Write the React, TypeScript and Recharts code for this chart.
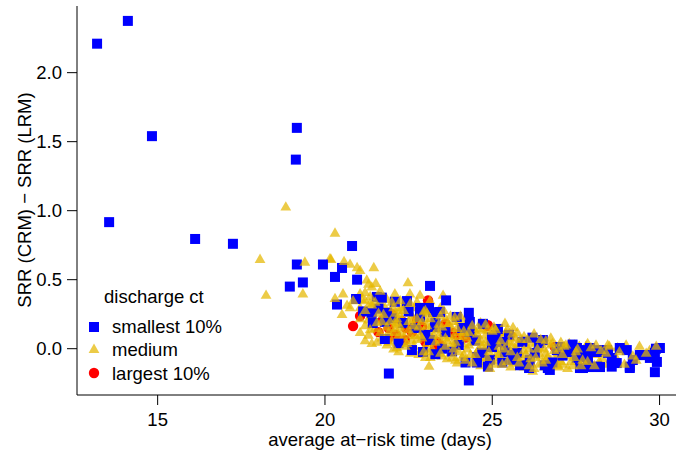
import React from 'react';
import { ScatterChart, Scatter, XAxis, YAxis } from 'recharts';

// [average at-risk time (days), SRR(CRM) - SRR(LRM)]
const smallest: [number, number][] = [
    [13.19, 2.21], [14.11, 2.375], [14.83, 1.54], [13.55, 0.917], [16.12, 0.795], [17.25, 0.76],
    [19.16, 1.6], [19.13, 1.37], [19.16, 0.61], [18.95, 0.45], [19.34, 0.48], [19.94, 0.61],
    [20.81, 0.744], [20.51, 0.585], [21.91, -0.18], [24.3, -0.23], [29.89, 0.0], [29.86, -0.17],
    [20.3, 0.52], [20.96, 0.5], [23.14, 0.455], [23.62, 0.35], [20.93, 0.36], [20.36, 0.32],
    [21.14, 0.27], [21.55, 0.375], [21.7, 0.37], [22.09, 0.34], [22.45, 0.345], [22.84, 0.295],
    [23.11, 0.295], [23.44, 0.266], [23.94, 0.23], [24.33, 0.194], [24.72, 0.18], [25.17, 0.143],
    [21.79, 0.194], [21.43, 0.186], [21.79, 0.07], [22.6, -0.01], [22.93, -0.024], [23.14, 0.063],
    [23.5, 0.0], [24.0, 0.027], [24.33, 0.12], [25.02, 0.04], [25.32, 0.049], [25.38, -0.024],
    [25.74, -0.03], [25.83, -0.12], [26.27, -0.03], [26.66, -0.14], [26.93, -0.01], [27.32, -0.024],
    [27.71, -0.06], [28.13, -0.024], [28.46, -0.03], [28.81, 0.005], [29.11, -0.13], [29.47, -0.046],
    [29.86, -0.03], [27.71, -0.14], [28.13, -0.13], [28.57, -0.13], [27.53, 0.005], [27.92, 0.005],
    [28.43, -0.01], [24.93, -0.08], [24.54, -0.1], [21.4, 0.26], [21.85, 0.26], [22.33, 0.186],
    [22.84, 0.23], [23.29, 0.157], [23.23, 0.265], [23.3, 0.186], [24.99, 0.085], [24.99, 0.012],
    [25.68, -0.045], [26.12, -0.08], [24.87, -0.13], [26.57, -0.12], [24.54, -0.06],
    [26.51, 0.063], [26.72, -0.154], [27.02, 0.012], [27.62, -0.14], [27.92, -0.133], [28.22, -0.133],
    [28.72, -0.104], [29.02, -0.01], [29.41, -0.046], [29.71, -0.067], [29.92, -0.096], [30.01, 0.005],
    [28.16, -0.01], [28.57, -0.067], [29.2, -0.082], [29.56, -0.046], [27.71, -0.01], [27.53, -0.067],
    [27.86, -0.067], [29.11, -0.14],
    [21.6, 0.29], [22.0, 0.22], [22.2, 0.04], [22.5, 0.27], [22.7, 0.15], [23.0, 0.1], [23.3, -0.04],
    [23.6, 0.12], [23.8, -0.02], [24.1, 0.15], [24.2, -0.1], [24.5, 0.06], [24.7, -0.03], [25.1, 0.1],
    [25.5, 0.1], [25.6, -0.08], [25.9, 0.05], [26.1, -0.14], [26.4, 0.04], [26.8, -0.1], [27.1, -0.05],
    [27.4, 0.03], [26.2, 0.08], [25.3, -0.1], [24.3, 0.26],
];

const medium: [number, number][] = [
    [18.83, 1.03], [20.3, 0.84], [18.06, 0.65], [19.4, 0.63], [18.24, 0.39], [19.34, 0.4],
    [20.18, 0.65], [20.57, 0.635], [20.75, 0.614], [20.96, 0.59], [21.05, 0.57], [21.46, 0.59],
    [21.25, 0.5], [21.52, 0.476], [20.54, 0.4], [20.3, 0.367], [20.51, 0.25], [22.48, 0.48],
    [23.53, 0.39], [20.75, 0.3], [22.15, 0.012], [23.11, -0.125], [26.21, -0.16], [24.93, -0.14],
    [25.62, 0.157], [25.38, 0.186], [24.69, 0.136], [23.88, 0.23], [20.15, 0.655], [21.34, 0.33],
    [22.09, 0.4], [22.84, 0.39], [21.05, 0.4], [20.84, 0.35], [22.54, 0.4], [20.66, 0.317],
    [23.14, 0.35], [22.15, 0.19], [21.3, 0.47], [21.4, 0.45],
    [21.1, 0.36], [21.2, 0.28], [21.3, 0.21], [21.4, 0.32], [21.5, 0.15], [21.6, 0.26], [21.6, 0.38],
    [21.7, 0.2], [21.8, 0.3], [21.9, 0.12], [21.9, 0.24], [22.0, 0.34], [22.0, 0.06], [22.1, 0.18],
    [22.2, 0.28], [22.2, 0.1], [22.3, 0.22], [22.4, 0.02], [22.4, 0.32], [22.5, 0.14], [22.6, 0.24],
    [22.6, 0.06], [22.7, 0.3], [22.8, 0.16], [22.8, -0.04], [22.9, 0.08], [23.0, 0.22], [23.0, 0.28],
    [23.1, 0.12], [23.1, -0.02], [23.2, 0.18], [23.3, 0.05], [23.3, 0.24], [23.4, 0.1], [23.5, -0.05],
    [23.5, 0.16], [23.6, 0.22], [23.6, 0.02], [23.7, 0.1], [23.8, -0.06], [23.8, 0.15], [23.9, 0.05],
    [24.0, 0.2], [24.0, -0.02], [24.1, 0.1], [24.2, -0.08], [24.2, 0.16], [24.3, 0.03], [24.4, 0.12],
    [24.5, -0.04], [24.5, 0.08], [24.6, 0.15], [24.7, -0.09], [24.7, 0.02], [24.8, 0.1], [24.9, -0.02],
    [25.0, 0.06], [25.0, 0.13], [25.1, -0.08], [25.2, 0.02], [25.3, 0.09], [25.3, -0.11], [25.4, -0.03],
    [25.5, 0.05], [25.6, -0.07], [25.6, 0.11], [25.7, 0.0], [25.8, -0.1], [25.9, 0.06], [26.0, -0.04],
    [26.0, 0.03], [26.1, -0.12], [26.2, 0.08], [26.3, -0.06], [26.4, 0.01], [26.5, -0.1], [26.5, 0.05],
    [26.6, -0.03], [26.7, -0.13], [26.8, 0.04], [26.9, -0.07], [27.0, 0.0], [27.1, -0.11], [27.2, 0.03],
    [27.3, -0.05], [27.4, -0.12], [27.6, 0.02], [27.7, -0.08], [27.9, -0.03], [28.1, 0.03], [28.3, -0.07],
    [28.5, 0.02], [28.6, -0.1], [28.8, -0.02], [29.0, 0.03], [29.2, -0.05], [29.4, 0.02], [29.6, -0.03],
    [29.8, -0.06], [29.9, 0.02],
    [21.3, 0.1], [21.5, 0.34], [21.7, 0.08], [22.1, 0.26], [22.3, 0.12], [22.5, 0.2], [22.7, 0.1],
    [22.9, 0.2], [23.2, 0.08], [23.4, 0.18], [23.7, 0.18], [23.9, -0.08], [24.1, 0.04], [24.3, 0.12],
    [24.6, 0.0], [24.8, 0.05], [25.1, 0.1], [25.2, -0.04], [25.4, 0.06], [25.7, 0.08], [25.8, -0.02],
    [26.1, 0.0], [26.3, 0.04], [26.6, -0.08], [26.9, 0.02], [27.1, -0.04], [27.3, 0.04], [27.5, -0.02],
    [27.8, 0.02], [23.0, -0.06], [22.2, -0.02], [21.4, 0.04],
    [21.05, 0.12], [21.05, 0.22], [21.05, 0.3], [21.2, 0.06], [21.2, 0.17], [21.2, 0.35], [21.2, 0.41],
    [21.35, 0.14], [21.35, 0.24], [21.35, 0.38], [21.55, 0.05], [21.55, 0.19], [21.55, 0.3],
    [21.65, 0.12], [21.65, 0.34], [21.65, 0.42], [21.85, 0.03], [21.85, 0.16], [21.85, 0.36],
    [21.95, 0.2], [21.95, 0.28], [22.05, 0.0], [22.05, 0.12], [22.05, 0.3], [22.25, 0.05], [22.25, 0.16],
    [22.25, 0.24], [22.25, 0.35], [22.35, 0.08], [22.35, 0.28], [22.55, -0.03], [22.55, 0.1], [22.55, 0.26],
    [22.55, 0.33], [22.65, 0.02], [22.65, 0.17], [22.75, 0.07], [22.75, 0.22], [22.75, 0.34],
    [22.95, -0.02], [22.95, 0.13], [22.95, 0.27], [23.05, 0.04], [23.05, 0.17], [23.15, -0.06],
    [23.15, 0.22], [23.15, 0.3], [23.25, 0.1], [23.25, 0.2], [23.45, -0.03], [23.45, 0.06], [23.45, 0.24],
    [23.55, 0.12], [23.55, 0.28], [23.65, -0.07], [23.65, 0.06], [23.65, 0.17], [23.85, 0.0], [23.85, 0.09],
    [23.85, 0.2], [23.95, -0.1], [23.95, 0.15], [24.05, 0.06], [24.05, 0.24], [24.15, -0.04], [24.15, 0.13],
    [24.25, 0.0], [24.25, 0.08], [24.25, 0.2], [24.4, -0.1], [24.4, 0.05], [24.4, 0.17], [24.55, -0.02],
    [24.55, 0.11], [24.65, -0.12], [24.65, 0.07], [24.65, 0.19], [24.85, -0.06], [24.85, 0.03], [24.85, 0.14],
    [24.95, 0.09], [25.05, -0.11], [25.05, 0.0], [25.05, 0.16], [25.25, -0.06], [25.25, 0.06], [25.25, 0.12],
    [25.45, -0.09], [25.45, 0.02], [25.45, 0.14], [25.55, -0.13], [25.55, -0.02], [25.55, 0.08],
    [25.75, -0.06], [25.75, 0.04], [25.75, 0.12], [25.95, -0.13], [25.95, -0.01], [25.95, 0.09],
    [26.15, -0.07], [26.15, 0.05], [26.25, -0.14], [26.25, -0.02], [26.25, 0.11], [26.45, -0.05],
    [26.45, 0.07], [26.55, -0.13], [26.55, 0.0], [26.75, -0.08], [26.75, 0.03], [26.75, 0.08],
    [26.95, -0.12], [26.95, -0.03], [27.05, 0.05], [27.05, -0.09], [27.25, -0.14], [27.25, -0.01],
    [27.45, -0.06], [27.45, 0.03], [27.65, -0.12], [27.65, -0.03], [27.85, -0.09], [27.85, 0.04],
    [28.05, -0.12], [28.05, -0.04], [28.25, -0.01], [28.45, -0.11], [28.45, 0.03], [28.7, -0.06],
    [28.95, -0.11], [28.95, 0.0], [29.3, -0.08], [29.7, -0.01],
    [22.1, 0.15], [22.3, 0.3], [22.45, 0.04], [22.6, 0.2], [22.85, 0.1], [22.9, 0.3], [23.05, 0.26],
    [23.2, 0.0], [23.35, 0.14], [23.45, 0.3], [23.6, 0.08], [23.75, 0.24], [23.8, 0.04], [24.0, 0.12],
    [24.1, -0.06], [24.2, 0.22], [24.35, -0.04], [24.45, 0.14], [24.6, 0.05], [24.75, -0.06], [24.8, 0.18],
    [24.95, 0.02], [25.1, 0.14], [25.15, -0.03], [25.35, 0.0], [25.4, 0.12], [25.6, 0.03], [25.65, -0.1],
    [25.85, 0.07], [25.9, -0.07], [26.05, 0.07], [26.15, -0.1], [26.35, 0.0], [26.4, -0.11], [26.6, 0.06],
    [26.65, -0.06], [26.85, -0.01], [27.0, -0.13], [27.15, 0.02], [27.35, -0.09], [27.55, 0.0],
    [27.75, -0.05], [27.95, 0.01], [28.2, -0.09], [28.4, -0.03], [28.75, 0.01], [21.75, 0.25],
    [21.9, 0.05], [22.15, 0.22], [21.45, 0.22],
];

const largest: [number, number][] = [
    [20.84, 0.164], [22.12, 0.1], [21.88, 0.07], [21.05, 0.237], [23.08, 0.35], [24.84, 0.164],
    [23.94, 0.1], [23.44, 0.027], [26.87, 0.012], [22.39, 0.063], [22.9, 0.157], [22.75, 0.208],
    [21.73, 0.208], [23.82, 0.114], [23.35, 0.048], [24.87, 0.17], [25.53, 0.1], [22.42, 0.15],
    [23.29, 0.012], [21.9, 0.15], [22.3, 0.2], [22.6, 0.12], [23.0, 0.05], [23.6, 0.18], [24.2, 0.08],
    [22.0, 0.25], [21.6, 0.12],
];

const xTicks = [15, 20, 25, 30];
const yTicks = [0, 0.5, 1, 1.5, 2];

const toPts = (arr: [number, number][]) => arr.map(([x, y]) => ({ x, y }));

const FONT = '"Liberation Sans", Arial, Helvetica, sans-serif';
const BLUE = '#0000FF';
const GOLD = '#E5B700';
const RED = '#FF0000';

const Square = (p: any) => <rect x={p.cx - 5} y={p.cy - 5} width={10} height={10} fill={BLUE} />;
const Tri = (p: any) => (
    <polygon
        points={`${p.cx},${p.cy - 5.4} ${p.cx + 5.4},${p.cy + 3.9} ${p.cx - 5.4},${p.cy + 3.9}`}
        fill={GOLD}
        fillOpacity={0.72}
    />
);
const Dot = (p: any) => <circle cx={p.cx} cy={p.cy} r={5.2} fill={RED} />;

const YTitle = () => (
    <text x={24} y={200} transform="rotate(-90 24 200)" textAnchor="middle" dominantBaseline="central"
        fontFamily={FONT} fontSize={18.5} fill="#000">
        SRR (CRM) − SRR (LRM)
    </text>
);

const XTitle = () => (
    <text x={380} y={446} textAnchor="middle" fontFamily={FONT} fontSize={18.5} fill="#000">
        average at−risk time (days)
    </text>
);

const App = () => {
    // half of the medium group is painted over the blue squares, as in the original
    const medUnder = medium.filter((_, i) => i % 2 === 0);
    const medOver = medium.filter((_, i) => i % 2 === 1);
    const tickStyle = { fontSize: 18.5, fill: '#000', fontFamily: FONT };

    return (
        <div style={{ position: 'absolute', left: 0, top: 0, width: 676, height: 455, overflow: 'hidden', background: '#fff' }}>
            <ScatterChart width={700} height={455} margin={{ top: 6, right: 17, bottom: 0, left: 0 }}>
                <XAxis
                    type="number"
                    dataKey="x"
                    domain={[12.59, 30.7]}
                    allowDataOverflow
                    ticks={xTicks}
                    height={60}
                    tickSize={10}
                    tickMargin={8}
                    stroke="#000"
                    tick={tickStyle}
                    label={<XTitle />}
                />
                <YAxis
                    type="number"
                    dataKey="y"
                    domain={[-0.3355, 2.483]}
                    allowDataOverflow
                    ticks={yTicks}
                    width={77}
                    tickSize={10}
                    tickMargin={5}
                    stroke="#000"
                    tick={tickStyle}
                    tickFormatter={(v: number) => v.toFixed(1)}
                    label={<YTitle />}
                />
                <Scatter data={toPts(largest)} shape={Dot} isAnimationActive={false} />
                <Scatter data={toPts(medUnder)} shape={Tri} isAnimationActive={false} />
                <Scatter data={toPts(smallest)} shape={Square} isAnimationActive={false} />
                <Scatter data={toPts(medOver)} shape={Tri} isAnimationActive={false} />
            </ScatterChart>
            <svg width={676} height={455} style={{ position: 'absolute', left: 0, top: 0, pointerEvents: 'none' }}>
                <g fontFamily={FONT} fontSize={18.5} fill="#000">
                    <text x={104} y={303}>discharge ct</text>
                    <rect x={89} y={322} width={10} height={10} fill={BLUE} />
                    <text x={112} y={333}>smallest 10%</text>
                    <polygon points="94,343.6 99.4,352.9 88.6,352.9" fill={GOLD} fillOpacity={0.72} />
                    <text x={112} y={356}>medium</text>
                    <circle cx={94} cy={373} r={5.2} fill={RED} />
                    <text x={112} y={380}>largest 10%</text>
                </g>
            </svg>
        </div>
    );
};

export default App;
